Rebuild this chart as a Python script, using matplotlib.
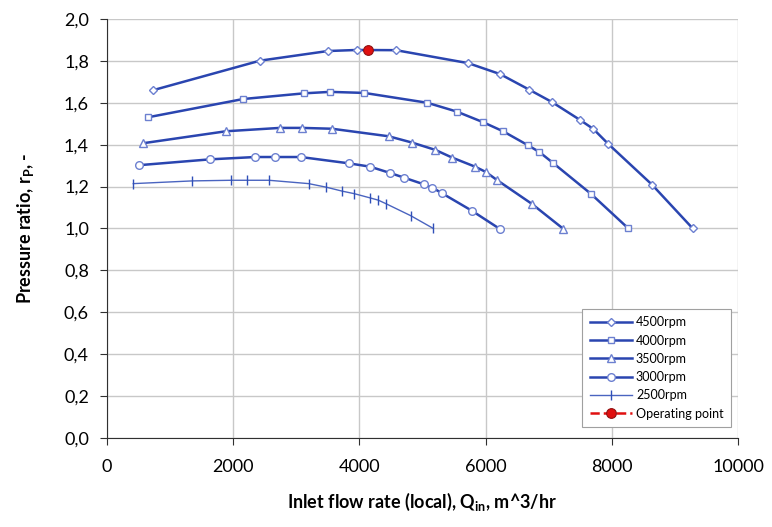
import numpy as np
import matplotlib.pyplot as plt

plt.rcParams['font.family'] = ['Lato', 'DejaVu Sans']
plt.rcParams['mathtext.fontset'] = 'custom'
plt.rcParams['mathtext.rm'] = 'Lato'
plt.rcParams['mathtext.bf'] = 'Lato:bold'

# speed lines, flow in m^3/hr, pressure ratio
q_4500 = [730, 2425, 3500, 3957, 4580, 5726, 6228, 6688, 7048, 7496, 7707, 7945, 8637, 9282]
rp_4500 = [1.660, 1.801, 1.847, 1.852, 1.851, 1.789, 1.737, 1.663, 1.604, 1.518, 1.475, 1.403, 1.209, 1.000]

q_4000 = [655, 2160, 3122, 3534, 4078, 5076, 5542, 5954, 6276, 6672, 6851, 7063, 7670, 8262]
rp_4000 = [1.531, 1.618, 1.645, 1.652, 1.647, 1.600, 1.558, 1.508, 1.464, 1.397, 1.365, 1.314, 1.165, 1.000]

q_3500 = [576, 1886, 2742, 3090, 3566, 4464, 4834, 5203, 5472, 5832, 6001, 6176, 6730, 7232]
rp_3500 = [1.407, 1.464, 1.480, 1.480, 1.476, 1.440, 1.410, 1.375, 1.338, 1.295, 1.270, 1.232, 1.118, 0.998]

q_3000 = [507, 1637, 2350, 2658, 3070, 3830, 4168, 4485, 4712, 5019, 5155, 5304, 5780, 6223]
rp_3000 = [1.302, 1.330, 1.341, 1.341, 1.341, 1.311, 1.295, 1.265, 1.242, 1.211, 1.195, 1.169, 1.085, 0.998]

q_2500 = [417, 1352, 1965, 2219, 2567, 3196, 3475, 3729, 3919, 4168, 4300, 4422, 4813, 5171]
rp_2500 = [1.214, 1.227, 1.230, 1.230, 1.230, 1.214, 1.197, 1.178, 1.166, 1.146, 1.135, 1.118, 1.061, 1.000]

q_op = [4132]
rp_op = [1.851]

y_ticks = np.arange(0, 2.01, 0.2)

fig = plt.figure(figsize=(7.72, 5.27), dpi=100)
ax = fig.add_axes([0.1386, 0.169, 0.8174, 0.795])

line_col = '#2a45b0'
mk_col = '#6c80d0'

series = [
    (q_4500, rp_4500, 'D', 4.5, '4500rpm'),
    (q_4000, rp_4000, 's', 5, '4000rpm'),
    (q_3500, rp_3500, '^', 5.5, '3500rpm'),
    (q_3000, rp_3000, 'o', 5.5, '3000rpm'),
]
for q, rp, m, ms, lab in series:
    ax.plot(q, rp, color=line_col, lw=1.8, marker=m, ms=ms, mfc='white',
            mec=mk_col, mew=1.0, label=lab, zorder=3)
ax.plot(q_2500, rp_2500, color='#4a64c0', lw=1.0, marker='|', ms=7,
        mec='#3050b8', mew=1.0, label='2500rpm', zorder=3)
ax.plot(q_op, rp_op, color='#e01010', ls='--', lw=1.8, marker='o', ms=7,
        mfc='#e01010', mec='#901010', mew=0.8, label='Operating point', zorder=4)

ax.set_xlim(0, 10000)
ax.set_ylim(0, 2.0)
ax.set_xticks(np.arange(0, 10001, 2000))
ax.set_yticks(y_ticks)
ax.set_yticklabels([('%.1f' % v).replace('.', ',') for v in y_ticks])
ax.grid(True, color='#c8c8c8', lw=1.0)
ax.set_axisbelow(True)
for s in ('top', 'right'):
    ax.spines[s].set_visible(False)
for s in ('left', 'bottom'):
    ax.spines[s].set_color('#303030')
ax.tick_params(direction='out', length=5, color='#303030', labelsize=13, pad=8)
ax.tick_params(axis='x', pad=10)

ax.set_xlabel(r'Inlet flow rate (local), Q$_{\mathbf{in}}$, m^3/hr', fontsize=13,
              fontweight='bold', labelpad=12)
ax.set_ylabel(r'Pressure ratio, r$_{\mathbf{P}}$, -', fontsize=13,
              fontweight='bold', labelpad=20)

leg = ax.legend(loc='lower right', bbox_to_anchor=(0.989, 0.026), fontsize=9,
                frameon=True, fancybox=False, edgecolor='#a0a0a0', framealpha=1,
                handlelength=3.4, borderpad=0.6, labelspacing=0.5, handletextpad=0.3,
                borderaxespad=0)
leg.get_frame().set_linewidth(0.8)

fig.savefig('out.png', dpi=100)
